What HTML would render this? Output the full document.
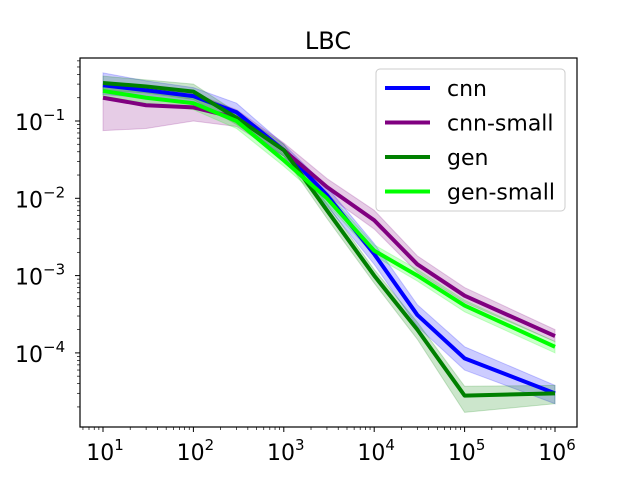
<!DOCTYPE html>
<html><head><meta charset="utf-8"><style>
body{margin:0;background:#fff;}
svg{display:block;font-family:"DejaVu Sans","Liberation Sans",sans-serif;}
</style></head><body>
<svg id="chart" width="640" height="480"></svg>
<script>
const xs=[10,30,100,300,1000,3000,10000,30000,100000,1000000];
const cnn=[0.29,0.25,0.21,0.13,0.042,0.011,0.0019,0.00031,0.000085,0.00003];
const cnnLo=[0.22,0.2,0.17,0.1,0.035,0.008,0.0014,0.00022,0.00006,0.000022];
const cnnHi=[0.42,0.33,0.27,0.17,0.05,0.014,0.0026,0.00042,0.00012,0.000038];
const cnnSmall=[0.2,0.16,0.15,0.11,0.042,0.014,0.0052,0.0014,0.00055,0.000165];
const cnnSmallLo=[0.075,0.08,0.1,0.085,0.035,0.011,0.004,0.0011,0.00045,0.00014];
const cnnSmallHi=[0.3,0.27,0.23,0.14,0.052,0.018,0.007,0.0018,0.0007,0.0002];
const gen=[0.31,0.28,0.24,0.11,0.042,0.007,0.001,0.0002,0.000028,0.00003];
const genLo=[0.25,0.23,0.19,0.09,0.035,0.0055,0.0008,0.00015,0.000017,0.000022];
const genHi=[0.38,0.34,0.3,0.13,0.05,0.0085,0.0012,0.00025,0.000037,0.000038];
const genSmall=[0.245,0.2,0.17,0.1,0.031,0.01,0.0021,0.001,0.00041,0.00012];
const genSmallLo=[0.21,0.17,0.14,0.08,0.026,0.0085,0.0018,0.00085,0.00034,0.0001];
const genSmallHi=[0.29,0.24,0.2,0.12,0.037,0.012,0.0025,0.0012,0.00048,0.00014];
const xTicks=[1,2,3,4,5,6];
const yTicks=[-1,-2,-3,-4];

const NS="http://www.w3.org/2000/svg";
const svg=document.getElementById('chart');
const L=80,R=577,T=58,B=427;
const X=v=>103+(Math.log10(v)-1)*90.4;
const Y=v=>121+(-1-Math.log10(v))*77.3;
function mk(tag,attrs,parent){const e=document.createElementNS(NS,tag);for(const k in attrs)e.setAttribute(k,attrs[k]);(parent||svg).appendChild(e);return e;}

const title=mk('text',{x:328,y:49,'text-anchor':'middle','font-size':24});
title.textContent='LBC';



const series=[
 {name:'cnn',c:'#0000ff',v:cnn,lo:cnnLo,hi:cnnHi},
 {name:'cnn-small',c:'#800080',v:cnnSmall,lo:cnnSmallLo,hi:cnnSmallHi},
 {name:'gen',c:'#008000',v:gen,lo:genLo,hi:genHi},
 {name:'gen-small',c:'#00ff00',v:genSmall,lo:genSmallLo,hi:genSmallHi}];
const clip=mk('clipPath',{id:'pc'});mk('rect',{x:L,y:T,width:R-L,height:B-T},clip);
const g=mk('g',{'clip-path':'url(#pc)'});
series.forEach(s=>{
 let d=xs.map((x,i)=>(i?'L':'M')+X(x)+','+Y(s.hi[i])).join('')+xs.slice().reverse().map((x,j)=>{const i=xs.length-1-j;return 'L'+X(x)+','+Y(s.lo[i]);}).join('')+'Z';
 const b=mk('path',{d:d,fill:s.c,'fill-opacity':0.2,stroke:s.c,'stroke-opacity':0.2},g);
 
 
});
series.forEach(s=>{
 const p=mk('polyline',{points:xs.map((x,i)=>X(x)+','+Y(s.v[i])).join(' '),fill:'none',stroke:s.c,'stroke-width':4,'stroke-linejoin':'round'},g);
 
 
});
const frame=mk('rect',{x:L,y:T,width:R-L,height:B-T,fill:'none',stroke:'#000','stroke-width':1.2});



for(let e=0;e<=6;e++)for(let m=1;m<10;m++){const v=m*Math.pow(10,e);const x=X(v);if(x<L||x>R)continue;
 mk('line',{x1:x,x2:x,y1:B,y2:B+(m==1?5:3),stroke:'#000','stroke-width':m==1?1:0.7});}
xTicks.forEach(t=>{const x=X(Math.pow(10,t));
 const tx=mk('text',{x:x+2,y:460,'text-anchor':'middle','font-size':22});
 tx.innerHTML='10<tspan dy="-10" font-size="15">'+t+'</tspan>';
 
 });
for(let e=-5;e<=0;e++)for(let m=1;m<10;m++){const v=m*Math.pow(10,e);const y=Y(v);if(y<T||y>B)continue;
 mk('line',{x1:L,x2:L-(m==1?5:3),y1:y,y2:y,stroke:'#000','stroke-width':m==1?1:0.7});}
yTicks.forEach(t=>{const y=Y(Math.pow(10,t));
 const tx=mk('text',{x:15,y:y+9,'font-size':22});
 tx.innerHTML='10<tspan dy="-10" font-size="15">\u2212'+(-t)+'</tspan>';
 
 });

const lg=mk('g',{});


mk('rect',{x:376,y:69,width:189,height:142,rx:4,fill:'#fff','fill-opacity':0.8,stroke:'#ccc'},lg);
series.forEach((s,i)=>{const y=88+i*34.5;
 const e=mk('g',{},lg);
 
 
 mk('line',{x1:385,x2:430,y1:y,y2:y,stroke:s.c,'stroke-width':4},e);
 const t=mk('text',{x:447,y:y+8,'font-size':22},e);t.textContent=s.name;});
</script>
</body></html>
